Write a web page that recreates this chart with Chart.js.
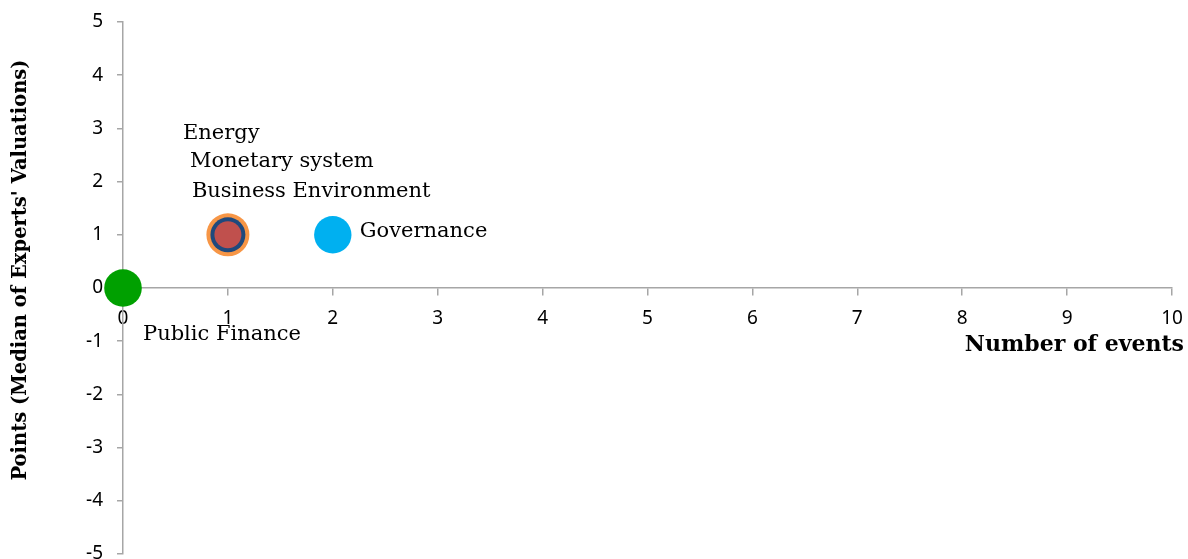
<!DOCTYPE html>
<html>
<head>
<meta charset="utf-8">
<script src="https://cdn.jsdelivr.net/npm/chart.js@4.4.1/dist/chart.umd.min.js"></script>
<style>
html,body{margin:0;padding:0;background:#fff;}
#wrap{width:1188px;height:559px;position:relative;}
</style>
</head>
<body>
<div id="wrap"><canvas id="c" width="1188" height="559"></canvas></div>
<script>
// Data
const categories = ["Business Environment", "Monetary system", "Energy", "Governance", "Public Finance"];
const eventsX = [1, 1, 1, 2, 0];
const pointsY = [1, 1, 1, 1, 0];
const xTicks = [0,1,2,3,4,5,6,7,8,9,10];
const yTicks = [-5,-4,-3,-2,-1,0,1,2,3,4,5];

// Styles (kept separate from data)
const colors = ["#C0504D", "#1F497D", "#F79646", "#00B0F0", "#00A000"];
const radii = [13.5, 17.5, 21.5, 18.7, 18.8];
const labelOffsets = [[-36,-43],[-38,-73],[-45,-101],[27,-3],[20,47]];

const serif = "'DejaVu Serif', serif";
const sans = "'Noto Sans', sans-serif";
const axisGrey = "#A6A6A6";

const datasets = categories.map((name, i) => ({
  label: name,
  data: [{x: eventsX[i], y: pointsY[i]}],
  backgroundColor: colors[i],
  borderWidth: 0,
  pointRadius: radii[i],
  pointHoverRadius: radii[i],
  clip: false,
  order: i
}));

const labelPlugin = {
  id: 'labels',
  afterDatasetsDraw(chart) {
    const ctx = chart.ctx;
    ctx.save();
    ctx.fillStyle = '#000';
    ctx.font = "21px " + serif;
    ctx.textBaseline = 'middle';
    ctx.textAlign = 'left';
    chart.data.datasets.forEach((ds, i) => {
      const el = chart.getDatasetMeta(i).data[0];
      ctx.fillText(ds.label, el.x + labelOffsets[i][0], el.y + labelOffsets[i][1]);
    });
    // Axis titles
    ctx.font = "bold 22px " + serif;
    ctx.textAlign = 'right';
    ctx.fillText("Number of events", 1184, 345);
    ctx.font = "bold 19.5px " + serif;
    ctx.translate(21, 270);
    ctx.rotate(-Math.PI/2);
    ctx.textAlign = 'center';
    ctx.fillText("Points (Median of Experts' Valuations)", 0, 0);
    ctx.restore();
  }
};

new Chart(document.getElementById('c'), {
  type: 'scatter',
  data: { datasets },
  options: {
    responsive: false,
    animation: false,
    events: [],
    layout: { autoPadding: false, padding: { left: 0, right: 16, top: 22, bottom: 5 } },
    plugins: { legend: { display: false }, tooltip: { enabled: false } },
    scales: {
      x: {
        type: 'linear',
        position: { y: 0 },
        min: 0, max: 10,
        afterBuildTicks: s => { s.ticks = xTicks.map(v => ({value: v})); },
        afterFit: s => { s.paddingLeft = 0; s.paddingRight = 0; s.paddingTop = 0; s.paddingBottom = 0; },
        grid: { display: true, drawOnChartArea: false, drawTicks: true, tickLength: 7, color: axisGrey, lineWidth: 1.5 },
        border: { display: true, color: axisGrey, width: 1.5 },
        ticks: { color: '#000', font: { family: sans, size: 19 }, padding: 12, maxRotation: 0, autoSkip: false }
      },
      y: {
        type: 'linear',
        position: 'left',
        min: -5, max: 5,
        afterBuildTicks: s => { s.ticks = yTicks.map(v => ({value: v})); },
        afterFit: s => { s.width = 123; s.paddingTop = 0; s.paddingBottom = 0; s.paddingLeft = 0; s.paddingRight = 0; },
        grid: { display: true, drawOnChartArea: false, drawTicks: true, tickLength: 6, color: axisGrey, lineWidth: 1.5 },
        border: { display: true, color: axisGrey, width: 1.5 },
        ticks: { color: '#000', font: { family: sans, size: 19 }, padding: 14, autoSkip: false }
      }
    }
  },
  plugins: [labelPlugin]
});
</script>
</body>
</html>
